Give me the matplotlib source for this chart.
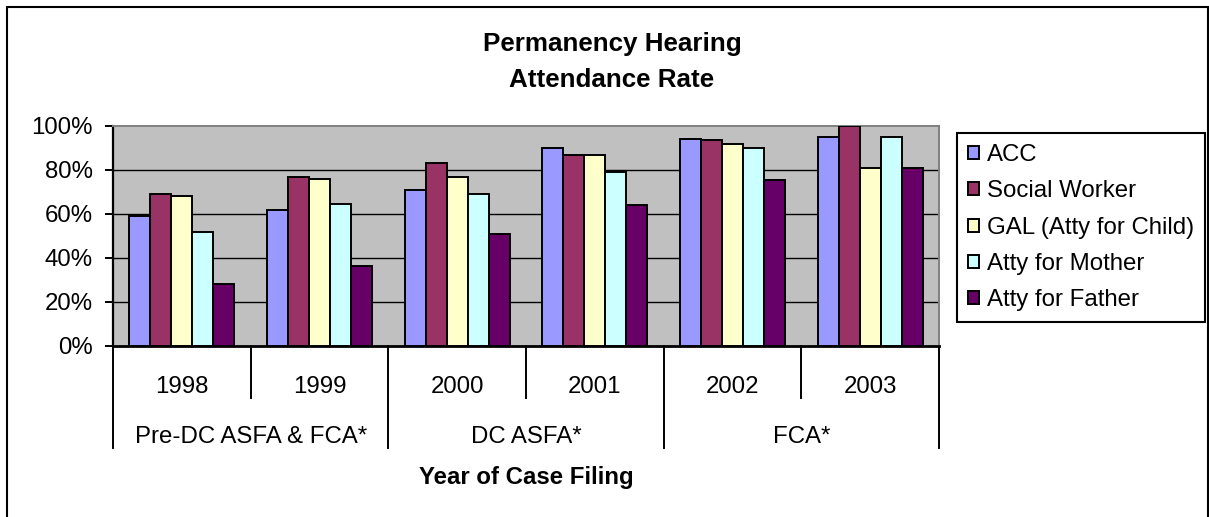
import matplotlib
matplotlib.use('Agg')
import matplotlib.pyplot as plt
from matplotlib.patches import Rectangle

plt.rcParams['font.family'] = ['Liberation Sans', 'DejaVu Sans']

# data
years = ['1998', '1999', '2000', '2001', '2002', '2003']
periods = ['Pre-DC ASFA & FCA*', 'DC ASFA*', 'FCA*']
period_years = [(0, 1), (2, 3), (4, 5)]

names = ['ACC', 'Social Worker', 'GAL (Atty for Child)', 'Atty for Mother', 'Atty for Father']
acc = [0.59, 0.62, 0.71, 0.90, 0.94, 0.95]
social_worker = [0.69, 0.77, 0.83, 0.87, 0.935, 1.00]
gal = [0.68, 0.76, 0.77, 0.87, 0.92, 0.81]
atty_mother = [0.52, 0.645, 0.69, 0.79, 0.90, 0.95]
atty_father = [0.28, 0.365, 0.51, 0.64, 0.755, 0.81]
colors = ['#9999FF', '#993366', '#FFFFCC', '#CCFFFF', '#660066']

W, H = 1209, 517


def px(v):
    # pixels -> points at 100 dpi
    return v * 0.72


fig = plt.figure(figsize=(W / 100, H / 100), dpi=100)
ax = fig.add_axes([113 / W, 1 - 346 / H, (939 - 113) / W, (346 - 126) / H])

bw = 0.153
series = [acc, social_worker, gal, atty_mother, atty_father]
for i, (name, vals, col) in enumerate(zip(names, series, colors)):
    xs = [k + (i - 2) * bw for k in range(len(years))]
    ax.bar(xs, vals, bw, color=col, edgecolor='black', linewidth=1.4,
           label=name, zorder=3)

ax.set_facecolor('#C0C0C0')
ax.set_xlim(-0.5, 5.5)
ax.set_ylim(0, 1)
yt = [0, 0.2, 0.4, 0.6, 0.8, 1.0]
ax.set_yticks(yt)
ax.set_yticklabels(['%d%%' % round(v * 100) for v in yt])
for y in yt[1:-1]:
    ax.axhline(y, color='black', lw=1, zorder=1)
ax.set_xticks([])
ax.tick_params(axis='y', length=px(8), width=1.4, pad=px(12), labelsize=px(24))

ax.spines['left'].set_linewidth(1.6)
ax.spines['bottom'].set_linewidth(2)
for s in ['top', 'right']:
    ax.spines[s].set_color('#808080')
    ax.spines[s].set_linewidth(1.4)

# category dividers under the axis
trans = ax.get_xaxis_transform()
for k in range(len(years) + 1):
    depth = -0.464 if k % 2 == 0 else -0.236
    ax.plot([k - 0.5, k - 0.5], [0, depth], transform=trans, color='black',
            lw=1.4, clip_on=False)

for k, yr in enumerate(years):
    ax.text(k, -0.2136, yr, transform=trans, ha='center', va='baseline',
            fontsize=px(24))
for name, (a, b) in zip(periods, period_years):
    ax.text((a + b) / 2, -0.44, name, transform=trans, ha='center',
            va='baseline', fontsize=px(24))

ax.text(2.5, -0.627, 'Year of Case Filing', transform=trans, ha='center',
        va='baseline', fontsize=px(24), fontweight='bold')

fig.text(612 / W, 1 - 51 / H, 'Permanency Hearing', ha='center', va='baseline',
         fontsize=px(26), fontweight='bold')
fig.text(612 / W, 1 - 87 / H, 'Attendance Rate', ha='center', va='baseline',
         fontsize=px(26), fontweight='bold')

leg = fig.legend(loc='upper left', bbox_to_anchor=(957 / W, 1 - 133 / H),
                 bbox_transform=fig.transFigure, frameon=True, fancybox=False,
                 edgecolor='black', framealpha=1, fontsize=px(24),
                 handlelength=0.46, handleheight=0.46, handletextpad=0.33,
                 borderpad=0.45, labelspacing=0.6, borderaxespad=0)
leg.get_frame().set_linewidth(1.5)

fig.patches.append(Rectangle((7 / W, -0.05), (1208 - 7) / W, 1 - 7 / H + 0.05,
                             transform=fig.transFigure, fill=False,
                             edgecolor='black', lw=1.5))

fig.savefig('out.png', dpi=100)
